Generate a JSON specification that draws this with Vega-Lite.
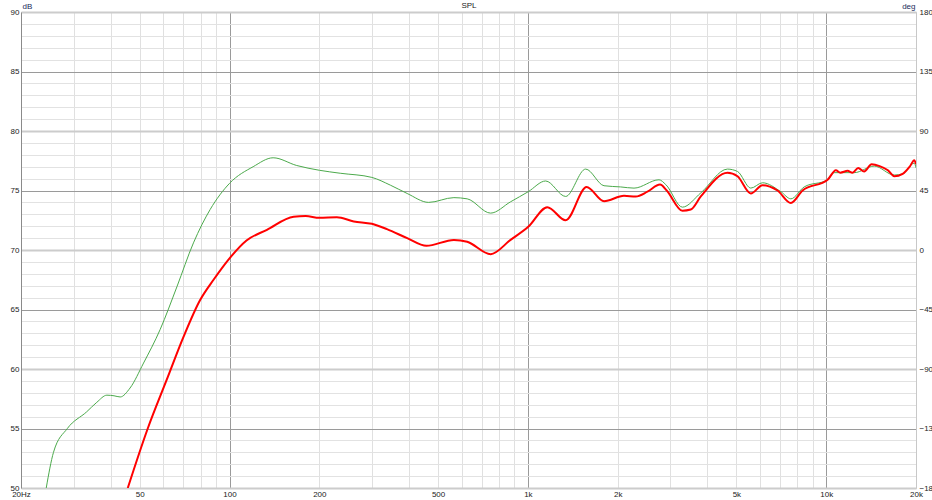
{
  "$schema": "https://vega.github.io/schema/vega-lite/v6.json",
  "width": 895,
  "height": 476,
  "autosize": {"type": "none"},
  "padding": {"left": 21, "top": 12, "right": 16, "bottom": 12},
  "background": "white",
  "config": {
    "font": "Liberation Sans",
    "view": {"stroke": "#c8c8c8", "strokeWidth": 1},
    "axis": {"labelFont": "Liberation Sans", "labelFontSize": 8, "labelColor": "#222", "titleFont": "Liberation Sans", "titleFontSize": 8, "titleFontWeight": "normal", "titleColor": "#1a2a5a"}
  },
  "datasets": {
    "curves": [
      {"s": "g", "f": 24.3, "db": 50}, {"s": "g", "f": 25.7, "db": 53.0}, {"s": "g", "f": 28.6, "db": 55.0}, {"s": "g", "f": 33.2, "db": 56.4},
      {"s": "g", "f": 35.9, "db": 57.2}, {"s": "g", "f": 38.8, "db": 57.8}, {"s": "g", "f": 41, "db": 57.75}, {"s": "g", "f": 43, "db": 57.65},
      {"s": "g", "f": 46.4, "db": 58.4}, {"s": "g", "f": 51.5, "db": 60.5}, {"s": "g", "f": 58.5, "db": 63.3}, {"s": "g", "f": 66.6, "db": 66.9},
      {"s": "g", "f": 75.7, "db": 70.6}, {"s": "g", "f": 86.1, "db": 73.4}, {"s": "g", "f": 100, "db": 75.6}, {"s": "g", "f": 120, "db": 77.0},
      {"s": "g", "f": 140, "db": 77.75}, {"s": "g", "f": 168, "db": 77.1}, {"s": "g", "f": 200, "db": 76.7}, {"s": "g", "f": 235, "db": 76.45},
      {"s": "g", "f": 300, "db": 76.1}, {"s": "g", "f": 346, "db": 75.45}, {"s": "g", "f": 394, "db": 74.75}, {"s": "g", "f": 465, "db": 74.0},
      {"s": "g", "f": 565, "db": 74.4}, {"s": "g", "f": 626, "db": 74.3}, {"s": "g", "f": 750, "db": 73.1}, {"s": "g", "f": 875, "db": 74.05},
      {"s": "g", "f": 1003, "db": 74.9}, {"s": "g", "f": 1147, "db": 75.8}, {"s": "g", "f": 1339, "db": 74.5}, {"s": "g", "f": 1562, "db": 76.8},
      {"s": "g", "f": 1800, "db": 75.4}, {"s": "g", "f": 2047, "db": 75.3}, {"s": "g", "f": 2269, "db": 75.2}, {"s": "g", "f": 2752, "db": 75.9},
      {"s": "g", "f": 2899, "db": 75.5}, {"s": "g", "f": 3297, "db": 73.6}, {"s": "g", "f": 3799, "db": 74.8}, {"s": "g", "f": 4667, "db": 76.8},
      {"s": "g", "f": 5043, "db": 76.6}, {"s": "g", "f": 5588, "db": 75.2}, {"s": "g", "f": 6118, "db": 75.65}, {"s": "g", "f": 7049, "db": 74.9},
      {"s": "g", "f": 7613, "db": 74.3}, {"s": "g", "f": 8437, "db": 75.3}, {"s": "g", "f": 10110, "db": 75.9}, {"s": "g", "f": 10637, "db": 76.5},
      {"s": "g", "f": 12418, "db": 76.5}, {"s": "g", "f": 14490, "db": 77.05}, {"s": "g", "f": 16910, "db": 76.3}, {"s": "g", "f": 18050, "db": 76.4},
      {"s": "g", "f": 19740, "db": 77.3}, {"s": "g", "f": 20000, "db": 76.9},
      {"s": "r", "f": 45.6, "db": 50}, {"s": "r", "f": 53.2, "db": 55}, {"s": "r", "f": 61.6, "db": 59.1}, {"s": "r", "f": 70.1, "db": 62.7},
      {"s": "r", "f": 79.7, "db": 65.8}, {"s": "r", "f": 88.4, "db": 67.5}, {"s": "r", "f": 100, "db": 69.3}, {"s": "r", "f": 114, "db": 70.8},
      {"s": "r", "f": 133.5, "db": 71.7}, {"s": "r", "f": 164, "db": 72.8}, {"s": "r", "f": 180, "db": 72.85}, {"s": "r", "f": 200, "db": 72.7},
      {"s": "r", "f": 229, "db": 72.75}, {"s": "r", "f": 261, "db": 72.4}, {"s": "r", "f": 300, "db": 72.2}, {"s": "r", "f": 337, "db": 71.75},
      {"s": "r", "f": 394, "db": 71.0}, {"s": "r", "f": 457, "db": 70.35}, {"s": "r", "f": 565, "db": 70.85}, {"s": "r", "f": 626, "db": 70.7},
      {"s": "r", "f": 750, "db": 69.65}, {"s": "r", "f": 875, "db": 70.85}, {"s": "r", "f": 1003, "db": 71.95}, {"s": "r", "f": 1162, "db": 73.6},
      {"s": "r", "f": 1339, "db": 72.5}, {"s": "r", "f": 1574, "db": 75.3}, {"s": "r", "f": 1800, "db": 74.1}, {"s": "r", "f": 2100, "db": 74.55},
      {"s": "r", "f": 2299, "db": 74.5}, {"s": "r", "f": 2517, "db": 74.9}, {"s": "r", "f": 2774, "db": 75.5}, {"s": "r", "f": 2920, "db": 75.0},
      {"s": "r", "f": 3297, "db": 73.3}, {"s": "r", "f": 3516, "db": 73.4}, {"s": "r", "f": 3799, "db": 74.5}, {"s": "r", "f": 4667, "db": 76.5},
      {"s": "r", "f": 5043, "db": 76.2}, {"s": "r", "f": 5588, "db": 74.75}, {"s": "r", "f": 6118, "db": 75.45}, {"s": "r", "f": 6870, "db": 75.0},
      {"s": "r", "f": 7613, "db": 73.95}, {"s": "r", "f": 8333, "db": 75.0}, {"s": "r", "f": 10110, "db": 75.9}, {"s": "r", "f": 10775, "db": 76.7},
      {"s": "r", "f": 11150, "db": 76.5}, {"s": "r", "f": 11800, "db": 76.65}, {"s": "r", "f": 12250, "db": 76.5}, {"s": "r", "f": 12800, "db": 76.9},
      {"s": "r", "f": 13400, "db": 76.6}, {"s": "r", "f": 14200, "db": 77.2}, {"s": "r", "f": 15100, "db": 77.05}, {"s": "r", "f": 16100, "db": 76.7},
      {"s": "r", "f": 16910, "db": 76.2}, {"s": "r", "f": 18050, "db": 76.4}, {"s": "r", "f": 19050, "db": 77.0}, {"s": "r", "f": 19740, "db": 77.55},
      {"s": "r", "f": 20000, "db": 77.2}
    ],
    "phase": [{"f": 20, "deg": -180}, {"f": 20000, "deg": 180}]
  },
  "layer": [
    {
      "data": {"name": "curves"},
      "transform": [{"filter": "datum.s == 'g'"}],
      "mark": {"type": "line", "color": "#4caa4c", "strokeWidth": 1, "interpolate": "monotone", "clip": true},
      "encoding": {
        "x": {
          "field": "f", "type": "quantitative",
          "scale": {"type": "log", "domain": [20, 20000], "nice": false},
          "axis": {
            "title": "", "orient": "bottom", "values": [20,30,40,50,60,70,80,90,200,300,400,500,600,700,800,900,2000,3000,4000,5000,6000,7000,8000,9000,20000],
            "grid": true, "gridColor": "#e0e0e0", "ticks": false, "labels": false, "domain": false
          }
        },
        "y": {
          "field": "db", "type": "quantitative",
          "scale": {"domain": [50, 90], "nice": false, "zero": false},
          "axis": {
            "title": "dB", "titleAngle": 0, "titleX": 1, "titleY": -2, "titleAlign": "left", "titleBaseline": "bottom",
            "values": [50,51,52,53,54,55,56,57,58,59,60,61,62,63,64,65,66,67,68,69,70,71,72,73,74,75,76,77,78,79,80,81,82,83,84,85,86,87,88,89,90],
            "labelExpr": "datum.value % 5 == 0 ? datum.value + '' : ''",
            "ticks": false, "labelPadding": 2, "labelOverlap": false, "labelFlush": false,
            "domain": true, "domainColor": "#8a8a8a",
            "grid": true,
            "gridColor": {"condition": [{"test": "datum.value % 10 == 0", "value": "#cccccc"}, {"test": "datum.value % 5 == 0", "value": "#9a9a9a"}], "value": "#e2e2e2"},
            "gridWidth": {"condition": {"test": "datum.value % 10 == 0", "value": 2}, "value": 1}
          }
        }
      }
    },
    {
      "data": {"name": "curves"},
      "transform": [{"filter": "datum.s == 'r'"}],
      "mark": {"type": "line", "color": "#ff0000", "strokeWidth": 2, "interpolate": "monotone", "clip": true},
      "encoding": {
        "x": {
          "field": "f", "type": "quantitative",
          "scale": {"type": "log", "domain": [20, 20000], "nice": false},
          "axis": {
            "title": " ", "orient": "bottom", "values": [20,50,100,200,500,1000,2000,5000,10000,20000],
            "labelExpr": "datum.value == 20 ? '20Hz' : datum.value >= 1000 ? (datum.value / 1000) + 'k' : datum.value + ''",
            "grid": true, "gridColor": {"condition": {"test": "datum.value == 100 || datum.value == 1000 || datum.value == 10000", "value": "#9a9a9a"}, "value": "#e0e0e0"},
            "ticks": false, "labelPadding": 2, "labelOverlap": false, "labelFlush": false, "domain": false
          }
        },
        "y": {"field": "db", "type": "quantitative", "scale": {"domain": [50, 90], "nice": false, "zero": false}, "axis": null}
      }
    },
    {
      "data": {"name": "phase"},
      "mark": {"type": "point", "opacity": 0},
      "encoding": {
        "x": {
          "field": "f", "type": "quantitative", "scale": {"type": "log", "domain": [20, 20000], "nice": false},
          "axis": {
            "orient": "top", "title": "SPL", "titleColor": "#222", "labels": false, "ticks": false, "domain": false, "grid": false,
            "titleX": 447.5, "titleY": -3, "titleAlign": "center", "titleBaseline": "bottom", "titleAngle": 0
          }
        },
        "y": {
          "field": "deg", "type": "quantitative",
          "scale": {"domain": [-180, 180], "nice": false, "zero": false},
          "axis": {
            "orient": "right", "title": "deg", "titleAngle": 0, "titleX": -1, "titleY": -2, "titleAlign": "right", "titleBaseline": "bottom",
            "values": [-180,-135,-90,-45,0,45,90,135,180],
            "ticks": false, "labelPadding": 3, "grid": false, "domain": true, "domainColor": "#c8c8c8", "labelFlush": false, "labelOverlap": false
          }
        }
      }
    }
  ],
  "resolve": {"scale": {"y": "independent"}, "axis": {"x": "independent"}}
}
